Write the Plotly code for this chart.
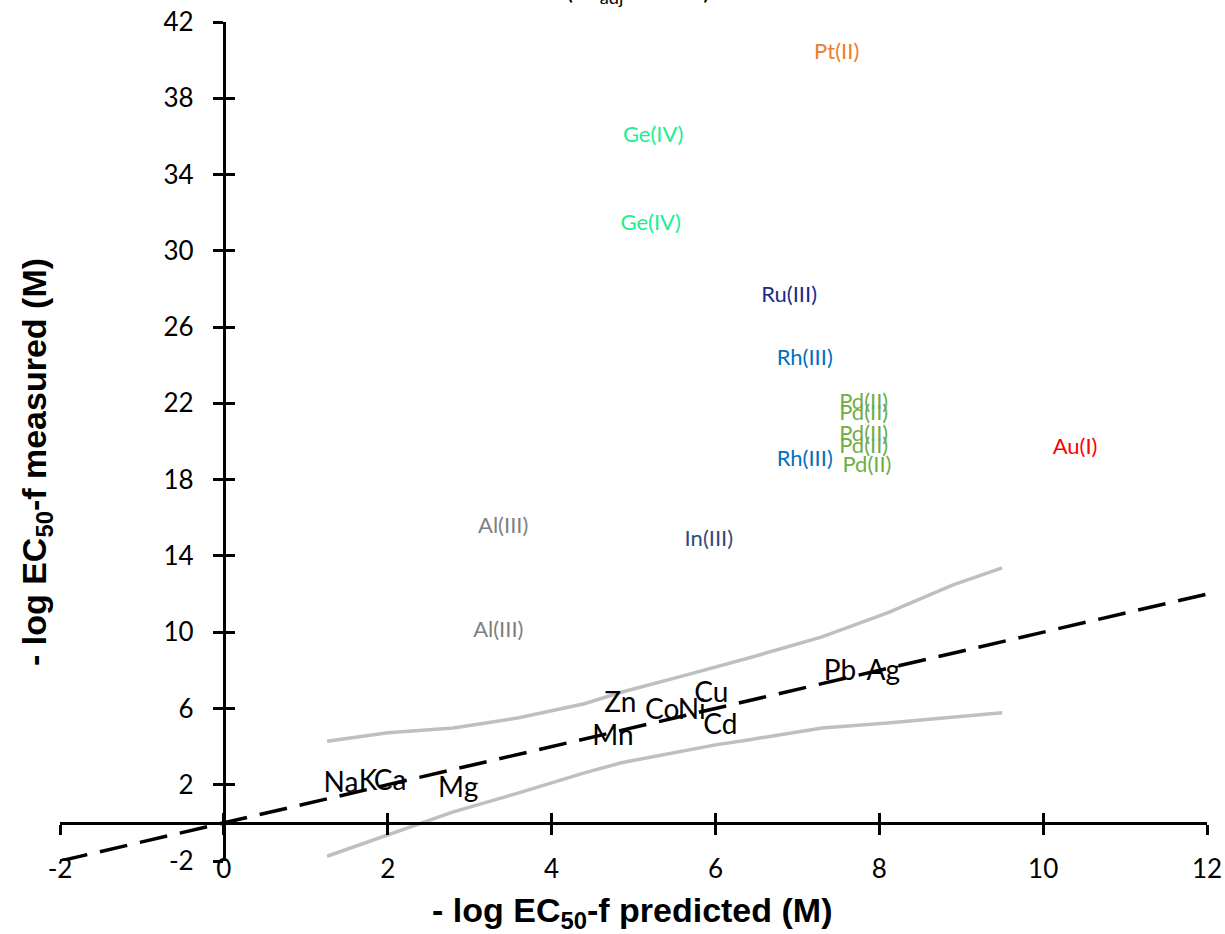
import plotly.graph_objects as go

# ---- data ----
# labelled points (x = -log EC50-f predicted, y = -log EC50-f measured)
metal_labels = ["Na", "K", "Ca", "Mg", "Zn", "Mn", "Co", "Ni", "Cu", "Cd", "Pb", "Ag"]
metal_x = [1.43, 1.76, 2.03, 2.86, 4.84, 4.75, 5.35, 5.71, 5.95, 6.06, 7.52, 8.05]
metal_y = [1.99, 2.10, 2.10, 1.73, 6.20, 4.46, 5.82, 5.82, 6.72, 5.03, 7.86, 7.86]

pt_labels = ["Pt(II)"]
pt_x = [7.48]
pt_y = [40.35]

ge_labels = ["Ge(IV)", "Ge(IV)"]
ge_x = [5.24, 5.21]
ge_y = [35.97, 31.36]

ru_labels = ["Ru(III)"]
ru_x = [6.90]
ru_y = [27.58]

rh_labels = ["Rh(III)", "Rh(III)"]
rh_x = [7.09, 7.09]
rh_y = [24.28, 19.03]

pd_labels = ["Pd(II)", "Pd(II)", "Pd(II)", "Pd(II)", "Pd(II)"]
pd_x = [7.81, 7.81, 7.81, 7.81, 7.85]
pd_y = [21.97, 21.40, 20.29, 19.70, 18.67]

au_labels = ["Au(I)"]
au_x = [10.39]
au_y = [19.61]

al_labels = ["Al(III)", "Al(III)"]
al_x = [3.41, 3.35]
al_y = [15.47, 10.02]

in_labels = ["In(III)"]
in_x = [5.92]
in_y = [14.79]

# 1:1 line
ref_x = [-2, 12]
ref_y = [-2, 12]

# prediction bands
upper_x = [1.26, 2.0, 2.8, 3.6, 4.4, 4.85, 5.65, 6.45, 7.3, 8.1, 8.9, 9.5]
upper_y = [4.28, 4.72, 4.98, 5.51, 6.25, 6.85, 7.76, 8.70, 9.75, 11.01, 12.48, 13.37]
lower_x = [1.26, 2.0, 2.4, 2.8, 3.6, 4.4, 4.85, 6.0, 6.4, 7.3, 8.1, 8.9, 9.5]
lower_y = [-1.75, -0.63, 0.0, 0.58, 1.57, 2.62, 3.15, 4.09, 4.35, 4.98, 5.24, 5.56, 5.77]

# axes
x_range = [-2, 12]
y_range = [-2, 42]
x_tickvals = [-2, 0, 2, 4, 6, 8, 10, 12]
x_ticktext = ["-2", "0", "2", "4", "6", "8", "10", "12"]
y_tickvals = [-2, 2, 6, 10, 14, 18, 22, 26, 30, 34, 38, 42]
y_ticktext = ["-2", "2", "6", "10", "14", "18", "22", "26", "30", "34", "38", "42"]

LABEL_FONT = "Lato, 'Open Sans', sans-serif"
TITLE_FONT = "'Liberation Sans', Arial, sans-serif"

fig = go.Figure()

band_style = dict(color="#BFBFBF", width=3.5)
fig.add_trace(go.Scatter(x=upper_x, y=upper_y, mode="lines", line=band_style,
                         hoverinfo="skip", showlegend=False))
fig.add_trace(go.Scatter(x=lower_x, y=lower_y, mode="lines", line=band_style,
                         hoverinfo="skip", showlegend=False))

groups = [
    (metal_labels, metal_x, metal_y, "#000000", 28),
    (pt_labels, pt_x, pt_y, "#ED7D31", 22),
    (ge_labels, ge_x, ge_y, "#1AF08E", 22),
    (ru_labels, ru_x, ru_y, "#1C2A8E", 22),
    (rh_labels, rh_x, rh_y, "#0070C0", 22),
    (pd_labels, pd_x, pd_y, "#70AD47", 22),
    (au_labels, au_x, au_y, "#FF0000", 22),
    (al_labels, al_x, al_y, "#808080", 22),
    (in_labels, in_x, in_y, "#2F4B7C", 22),
]
for labels, xs, ys, col, sz in groups:
    fig.add_trace(go.Scatter(x=xs, y=ys, mode="text", text=labels,
                             textposition="middle center",
                             textfont=dict(family=LABEL_FONT, size=sz, color=col),
                             hoverinfo="skip", showlegend=False))

fig.add_trace(go.Scatter(x=ref_x, y=ref_y, mode="lines",
                         line=dict(color="#000000", width=3.5, dash="28px,13px"),
                         hoverinfo="skip", showlegend=False))

# empty trace so the overlay axes (inner half of the crossing ticks) are drawn
fig.add_trace(go.Scatter(x=[], y=[], xaxis="x2", yaxis="y2", mode="lines",
                         hoverinfo="skip", showlegend=False))

x_pos = (0 - y_range[0]) / (y_range[1] - y_range[0])
y_pos = (0 - x_range[0]) / (x_range[1] - x_range[0])

tickfont = dict(family=LABEL_FONT, size=26, color="#000000")
common = dict(showgrid=False, zeroline=False, automargin=False, fixedrange=True)
fig.update_layout(
    width=1225, height=934,
    margin=dict(l=60, r=18, t=22, b=73, autoexpand=False),
    paper_bgcolor="white", plot_bgcolor="white",
    showlegend=False,
    xaxis=dict(range=x_range, domain=[0, 1], anchor="free", position=x_pos,
               showline=True, linecolor="black", linewidth=3,
               ticks="outside", ticklen=10, tickwidth=3, tickcolor="black",
               tickmode="array", tickvals=x_tickvals, ticktext=x_ticktext,
               tickfont=tickfont, ticklabelstandoff=12, **common),
    yaxis=dict(range=y_range, domain=[0, 1], anchor="free", position=y_pos,
               showline=True, linecolor="black", linewidth=3,
               ticks="outside", ticklen=10, tickwidth=3, tickcolor="black",
               tickmode="array", tickvals=y_tickvals, ticktext=y_ticktext,
               tickfont=tickfont, ticklabelstandoff=14, **common),
    xaxis2=dict(range=x_range, overlaying="x", anchor="free", position=x_pos,
                showline=False, ticks="inside", ticklen=10, tickwidth=3,
                tickcolor="black", tickmode="array", tickvals=x_tickvals,
                showticklabels=False, **common),
    yaxis2=dict(range=y_range, overlaying="y", anchor="free", position=y_pos,
                showline=False, ticks="inside", ticklen=10, tickwidth=3,
                tickcolor="black", tickmode="array", tickvals=y_tickvals,
                showticklabels=False, **common),
)

fig.add_annotation(text="<b>- log EC<sub>50</sub>-f predicted (M)</b>",
                   xref="paper", yref="paper", x=0.4987, y=-0.0608,
                   xanchor="center", yanchor="middle", showarrow=False,
                   font=dict(family=TITLE_FONT, size=34, color="black"))
fig.add_annotation(text="<b>- log EC<sub>50</sub>-f measured (M)</b>",
                   xref="paper", yref="paper", x=-0.0200, y=0.4756, textangle=-90,
                   xanchor="center", yanchor="middle", showarrow=False,
                   font=dict(family=TITLE_FONT, size=34, color="black"))
fig.add_annotation(text="(R<sup>2</sup><sub>adj</sub> = 0.84)",
                   xref="paper", yref="paper", x=0.504, y=1.039,
                   xanchor="center", yanchor="middle", showarrow=False,
                   font=dict(family=LABEL_FONT, size=26, color="black"))

fig.write_html("out.html")
